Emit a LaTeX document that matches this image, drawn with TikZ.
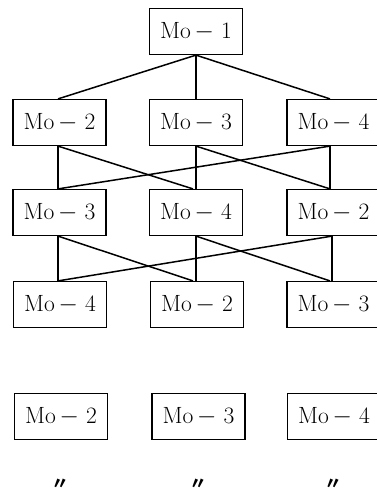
\documentclass[tikz,border=0pt]{standalone}
\usepackage{fontspec}
\newfontfamily\cjk{Noto Sans CJK SC}
\begin{document}
\begin{tikzpicture}[x=1pt,y=-1pt,
  mo/.style={draw,line width=1.2pt,minimum width=93pt,minimum height=46pt,inner sep=0pt,font=\fontsize{23.5}{23.5}\selectfont},
  link/.style={line width=1.5pt},
  ditto/.style={font=\cjk\fontsize{17}{17}\selectfont\bfseries,inner sep=0pt}]
\useasboundingbox (0,0) rectangle (377,493);
\node[mo] (a1) at (196,31.5) {Mo\,$-$\ 1};
\node[mo] (b1) at (59.5,122.5) {Mo\,$-$\ 2};
\node[mo] (b2) at (196,122.5) {Mo\,$-$\ 3};
\node[mo] (b3) at (333.5,122.5) {Mo\,$-$\ 4};
\node[mo] (c1) at (59.5,212.5) {Mo\,$-$\ 3};
\node[mo] (c2) at (196,212.5) {Mo\,$-$\ 4};
\node[mo] (c3) at (333.5,212.5) {Mo\,$-$\ 2};
\node[mo] (d1) at (60,304.5) {Mo\,$-$\ 4};
\node[mo] (d2) at (197,304.5) {Mo\,$-$\ 2};
\node[mo] (d3) at (333.5,304.5) {Mo\,$-$\ 3};
\node[mo] (e1) at (61,416.5) {Mo\,$-$\ 2};
\node[mo] (e2) at (198.5,416.5) {Mo\,$-$\ 3};
\node[mo] (e3) at (334,416.5) {Mo\,$-$\ 4};
\node[ditto] (f1) at (60,484) {〃};
\node[ditto] (f2) at (198,484) {〃};
\node[ditto] (f3) at (333,484) {〃};
% level 1 -> 2
\draw[link] (a1.south) -- ([xshift=-1.5pt]b1.north);
\draw[link] (a1.south) -- (b2.north);
\draw[link] (a1.south) -- ([xshift=-3.5pt]b3.north);
% level 2 -> 3
\draw[link] ([xshift=-1.5pt]b1.south) -- ([xshift=-1.5pt]c1.north);
\draw[link] ([xshift=-1.5pt]b1.south) -- ([xshift=-3pt]c2.north);
\draw[link] (b2.south) -- (c2.north);
\draw[link] (b2.south) -- ([xshift=-3.5pt]c3.north);
\draw[link] ([xshift=-3.5pt]b3.south) -- ([xshift=-3.5pt]c3.north);
\draw[link] ([xshift=-3.5pt]b3.south) -- ([xshift=-1.5pt]c1.north);
% level 3 -> 4
\draw[link] ([xshift=-1.5pt]c1.south) -- ([xshift=-2pt]d1.north);
\draw[link] ([xshift=-1.5pt]c1.south) -- ([xshift=-4pt]d2.north);
\draw[link] (c2.south) -- ([xshift=-1pt]d2.north);
\draw[link] (c2.south) -- ([xshift=-3.5pt]d3.north);
\draw[link] ([xshift=-1.5pt]c3.south) -- ([xshift=-1.5pt]d3.north);
\draw[link] ([xshift=-1.5pt]c3.south) -- ([xshift=-2pt]d1.north);
\end{tikzpicture}
\end{document}
